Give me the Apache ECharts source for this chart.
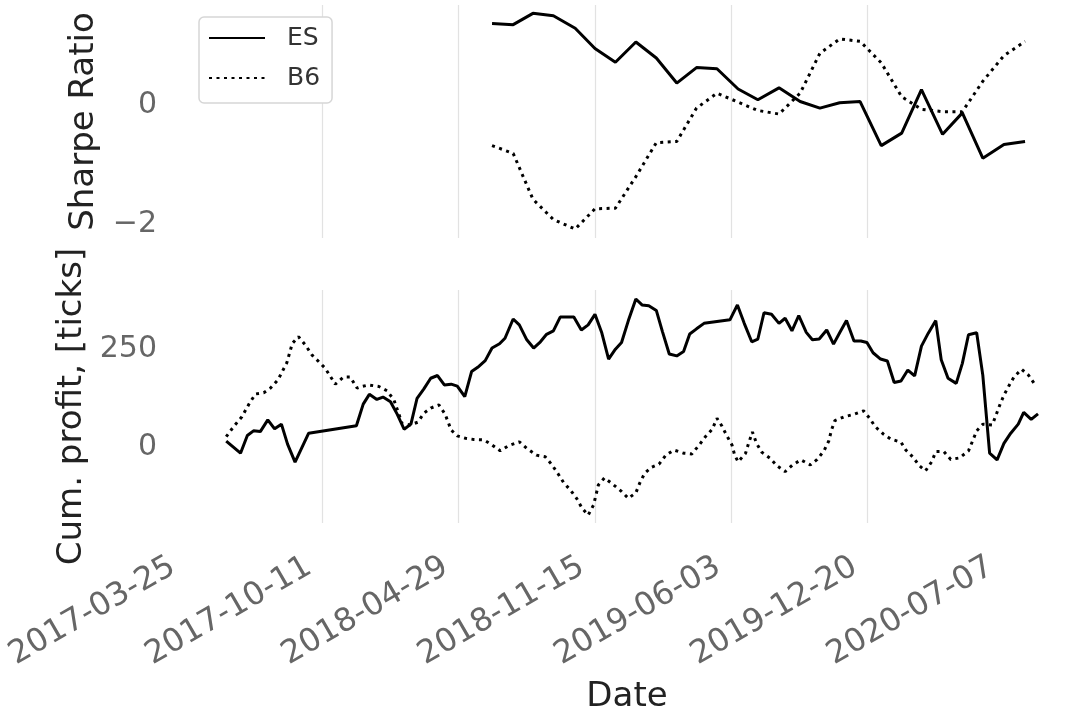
<!DOCTYPE html>
<html lang="en">
<head>
  <meta charset="UTF-8">
  <title>Sharpe ratio and cumulative profit</title>
  <style>
    html, body { margin: 0; height: 100%; width: 100%; background: #fff; }
  </style>
</head>
<body>
  <div id="chart" style="width:1068px;height:715px"></div>
  <script src="https://cdn.jsdelivr.net/npm/echarts@6/dist/echarts.min.js"></script>
  <script>
    // x values are days since 2017-03-25
    const startDate = Date.UTC(2017, 2, 25)
    const dateTicks = [0, 200, 400, 600, 800, 1000, 1200]

    // top panel: rolling Sharpe ratio
    const sharpeDays = [449, 480, 509, 539, 571, 600, 630, 660, 690, 720, 749, 779, 810, 839,
      870, 901, 930, 959, 989, 1020, 1050, 1079, 1110, 1139, 1169, 1200, 1231]
    const esSharpe = [1.30, 1.28, 1.47, 1.43, 1.22, 0.88, 0.65, 0.99, 0.72, 0.30, 0.56, 0.54, 0.20, 0.02,
      0.22, -0.01, -0.12, -0.03, -0.01, -0.75, -0.54, 0.19, -0.56, -0.20, -0.96, -0.73, -0.68]
    const b6Sharpe = [-0.75, -0.88, -1.65, -1.99, -2.15, -1.81, -1.80, -1.27, -0.70, -0.68, -0.12, 0.13, -0.02, -0.16,
      -0.22, 0.13, 0.80, 1.04, 1.00, 0.64, 0.07, -0.14, -0.18, -0.18, 0.33, 0.76, 1.00]

    // bottom panel: cumulative profit in ticks
    const esProfitDays = [59, 80, 90, 99, 109, 120, 130, 140, 149, 160, 180, 250, 260, 269, 280, 289, 300, 310, 320, 330,
      339, 349, 359, 369, 379, 389, 398, 409, 419, 428, 439, 449, 460, 468, 480, 489, 500, 510, 520, 529,
      539, 549, 559, 569, 580, 590, 600, 610, 620, 630, 639, 649, 660, 669, 679, 690, 699, 709, 720, 730,
      739, 749, 760, 798, 809, 819, 830, 839, 848, 859, 870, 879, 889, 899, 910, 919, 929, 940, 950, 959,
      969, 980, 990, 999, 1008, 1019, 1029, 1039, 1049, 1059, 1069, 1079, 1089, 1100, 1108, 1118, 1130, 1139, 1148, 1160,
      1169, 1179, 1190, 1200, 1210, 1221, 1229, 1240, 1250]
    const esProfit = [5, -26, 19, 31, 29, 59, 36, 48, -3, -49, 25, 44, 99, 124, 111, 117, 105, 73, 35, 48,
      114, 138, 165, 172, 148, 150, 145, 118, 182, 193, 210, 242, 253, 267, 316, 301, 263, 242, 258, 277,
      286, 321, 321, 321, 288, 301, 328, 281, 214, 239, 256, 312, 367, 352, 350, 338, 284, 227, 222, 233,
      278, 291, 305, 314, 352, 305, 258, 265, 332, 328, 305, 318, 286, 325, 282, 263, 265, 288, 252, 281,
      312, 260, 260, 256, 230, 214, 209, 154, 158, 186, 171, 247, 280, 312, 212, 165, 152, 203, 276, 281,
      173, -26, -43, -1, 25, 48, 78, 60, 74]
    const b6ProfitDays = [59, 70, 82, 93, 102, 114, 124, 135, 148, 156, 165, 175, 185, 195, 204, 219, 231, 241, 251, 258,
      268, 283, 295, 305, 317, 329, 340, 349, 359, 371, 380, 389, 398, 410, 422, 437, 449, 461, 473, 489,
      500, 514, 527, 537, 546, 554, 564, 573, 581, 590, 598, 605, 614, 626, 638, 649, 660, 666, 673, 683,
      694, 704, 716, 730, 742, 753, 762, 772, 779, 786, 793, 801, 805, 810, 821, 825, 831, 837, 845, 857,
      867, 879, 890, 902, 916, 926, 936, 943, 947, 952, 966, 980, 994, 1003, 1011, 1023, 1034, 1049, 1056, 1066,
      1076, 1085, 1094, 1100, 1112, 1122, 1135, 1148, 1154, 1160, 1169, 1183, 1189, 1194, 1200, 1208, 1215, 1226, 1236, 1245]
    const b6Profit = [16, 42, 67, 101, 125, 128, 140, 161, 205, 254, 271, 250, 224, 207, 191, 150, 168, 168, 140, 144,
      148, 144, 133, 110, 50, 46, 53, 76, 89, 97, 74, 33, 18, 12, 9, 8, -5, -20, -7, 3,
      -14, -31, -35, -56, -79, -101, -120, -141, -166, -184, -158, -107, -89, -105, -122, -141, -127, -101, -77, -62,
      -54, -31, -18, -26, -28, -5, 16, 35, 63, 44, 20, -5, -31, -48, -26, -3, 28, -1, -24, -39,
      -58, -73, -56, -43, -56, -42, -20, 5, 33, 57, 67, 73, 82, 63, 42, 23, 10, 2, -18, -35,
      -58, -71, -48, -22, -22, -42, -38, -20, 5, 31, 48, 46, 74, 97, 122, 148, 169, 188, 173, 150]

    const pairs = (xs, ys) => xs.map((x, i) => [x, ys[i]])
    const fmtDate = (v) => new Date(startDate + v * 86400000).toISOString().slice(0, 10)
    // y tick text goes through a rich style so it can sit a few px lower, like the reference
    const minus = (v) => '{v|' + String(v).replace('-', '\u2212') + '}'

    const font = 'DejaVu Sans'
    const gridLine = { show: true, showMinLine: false, showMaxLine: false, lineStyle: { color: '#e2e2e2', width: 1.2 } }
    const solid = { color: '#000', width: 3, type: 'solid' }
    const dotted = { color: '#000', width: 3, type: [3, 4.5], cap: 'butt' }

    function xAxisFor(gridIndex, showLabels) {
      return {
        type: 'value',
        gridIndex: gridIndex,
        min: 0,
        max: 1294,
        axisLine: { show: false },
        axisTick: { show: false, customValues: dateTicks },
        splitLine: gridLine,
        name: showLabels ? 'Date' : '',
        nameLocation: 'middle',
        nameGap: 157,
        nameMoveOverlap: false,
        nameTextStyle: { fontFamily: font, fontSize: 34, color: '#222' },
        axisLabel: {
          show: showLabels,
          customValues: dateTicks,
          rotate: 30,
          margin: 34,
          padding: [0, 15, 0, 0],
          fontFamily: font,
          fontSize: 32,
          color: '#666',
          formatter: fmtDate
        }
      }
    }

    function yAxisFor(gridIndex, min, max, ticks, name, gap) {
      return {
        type: 'value',
        gridIndex: gridIndex,
        min: min,
        max: max,
        name: name,
        nameLocation: 'middle',
        nameGap: gap,
        nameMoveOverlap: false,
        nameTextStyle: { fontFamily: font, fontSize: 34, color: '#222' },
        axisLine: { show: false },
        axisTick: { show: false, customValues: ticks },
        splitLine: gridLine,
        axisLabel: {
          customValues: ticks,
          margin: 29,
          formatter: minus,
          rich: {
            v: { fontFamily: font, fontSize: 30, color: '#666', lineHeight: 38, verticalAlign: 'bottom' }
          }
        }
      }
    }

    function lineSeries(name, gridIndex, data, style) {
      return {
        name: name,
        type: 'line',
        xAxisIndex: gridIndex,
        yAxisIndex: gridIndex,
        symbol: 'none',
        lineStyle: style,
        itemStyle: { color: '#000' },
        data: data
      }
    }

    const option = {
      animation: false,
      backgroundColor: '#fff',
      grid: [
        { left: 186, right: 0, top: 5, height: 233, outerBoundsMode: 'none' },
        { left: 186, right: 0, top: 290, height: 233, outerBoundsMode: 'none' }
      ],
      legend: {
        left: 199,
        top: 17,
        orient: 'vertical',
        padding: [6, 12, 10, 9],
        itemGap: 10,
        itemWidth: 56,
        itemHeight: 14,
        itemStyle: { opacity: 0 },
        backgroundColor: '#fff',
        borderColor: '#d6d6d6',
        borderWidth: 1.5,
        borderRadius: 5,
        textStyle: { fontFamily: font, fontSize: 25, color: '#333', lineHeight: 30, padding: [0, 0, 0, 17] },
        data: ['ES', 'B6']
      },
      xAxis: [xAxisFor(0, false), xAxisFor(1, true)],
      yAxis: [
        yAxisFor(0, -2.30, 1.61, [-2, 0], 'Sharpe Ratio', 85),
        yAxisFor(1, -204, 390, [0, 250], 'Cum. profit, [ticks]', 97)
      ],
      series: [
        lineSeries('ES', 0, pairs(sharpeDays, esSharpe), solid),
        lineSeries('B6', 0, pairs(sharpeDays, b6Sharpe), dotted),
        lineSeries('ES', 1, pairs(esProfitDays, esProfit), solid),
        lineSeries('B6', 1, pairs(b6ProfitDays, b6Profit), dotted)
      ]
    }

    const myChart = echarts.init(document.getElementById('chart'))
    myChart.setOption(option)
  </script>
</body>
</html>
